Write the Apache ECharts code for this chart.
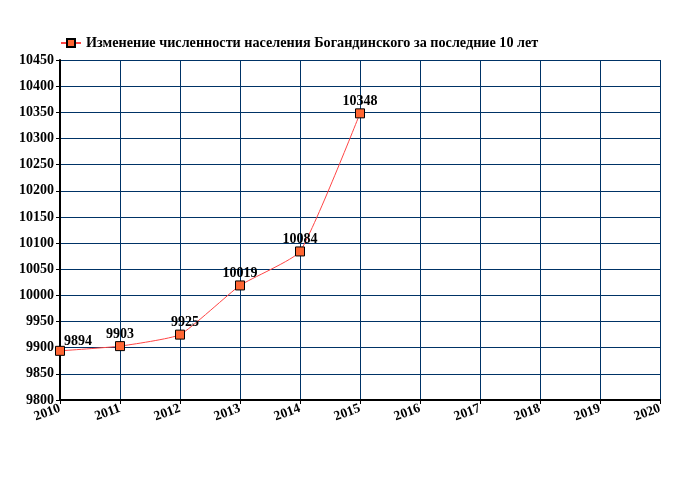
<!DOCTYPE html>
<html><head><meta charset="utf-8">
<script src="https://cdn.jsdelivr.net/npm/echarts@6/dist/echarts.min.js"></script>
<style>html,body{margin:0;padding:0;background:#fff}#c{width:680px;height:500px}</style>
</head><body><div id="c"></div>
<script>
const years = [2010, 2011, 2012, 2013, 2014, 2015];
const population = [9894, 9903, 9925, 10019, 10084, 10348];
const seriesName = 'Изменение численности населения Богандинского за последние 10 лет';
const font = 'Liberation Serif';
const data = years.map((y, i) => {
  const d = {value: [y, population[i]]};
  if (i === 0) d.label = {offset: [18, 3]};
  if (i === 2) d.label = {offset: [5, 0]};
  return d;
});
const chart = echarts.init(document.getElementById('c'), null, {renderer: 'canvas'});
chart.setOption({
  animation: false,
  legend: {
    top: 31, left: 55, itemWidth: 20, itemHeight: 10, itemGap: 5,
    textStyle: {fontFamily: font, fontWeight: 'bold', fontSize: 14.2, color: '#000'},
    data: [seriesName]
  },
  grid: {left: 60, right: 20, top: 60, bottom: 100, containLabel: false},
  xAxis: {
    type: 'value', min: 2010, max: 2020, interval: 1,
    axisLine: {lineStyle: {color: '#000', width: 2}},
    axisTick: {show: true, length: 4, lineStyle: {color: '#000'}},
    axisLabel: {rotate: 20, margin: 8, fontFamily: font, fontWeight: 'bold', fontSize: 13.5, color: '#000',
      formatter: v => String(v)},
    splitLine: {show: true, lineStyle: {color: '#003366', width: 1}}
  },
  yAxis: {
    type: 'value', min: 9800, max: 10450, interval: 50,
    axisLine: {show: true, lineStyle: {color: '#000', width: 2}},
    axisTick: {show: true, length: 4, lineStyle: {color: '#000'}},
    axisLabel: {margin: 6, fontFamily: font, fontWeight: 'bold', fontSize: 14, color: '#000',
      formatter: v => String(v)},
    splitLine: {show: true, lineStyle: {color: '#003366', width: 1}}
  },
  series: [{
    name: seriesName, type: 'line', data: data, smooth: 0.15,
    symbol: 'rect', symbolSize: 9,
    lineStyle: {color: '#ff4444', width: 1},
    itemStyle: {color: '#ff6633', borderColor: '#000', borderWidth: 1},
    label: {show: true, position: 'top', distance: 0, fontFamily: font, fontWeight: 'bold', fontSize: 14, color: '#000',
      formatter: p => String(p.value[1])}
  }]
});
</script></body></html>
